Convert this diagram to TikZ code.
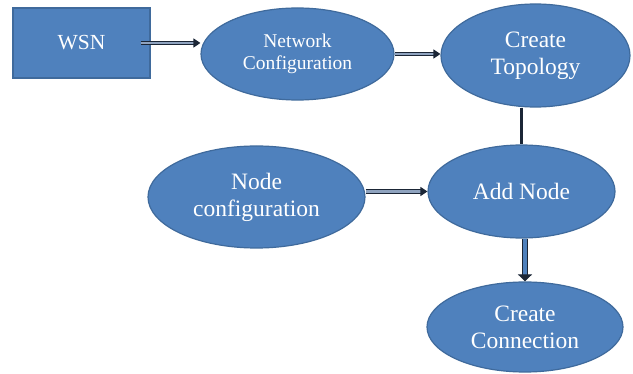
\documentclass[tikz,border=0pt]{standalone}
\usepackage{fontspec}
\setmainfont{Liberation Serif}
\usetikzlibrary{shapes.geometric,arrows.meta}
\definecolor{boxblue}{HTML}{4F81BD}
\definecolor{boxedge}{HTML}{3F6A9C}
\definecolor{arrdark}{HTML}{1B2636}
\definecolor{arrfill}{HTML}{8FA3BF}
\begin{document}
\begin{tikzpicture}[x=1pt,y=-1pt,
  every node/.style={text=white, align=center, inner sep=0pt},
  blob/.style={ellipse, fill=boxblue, draw=boxedge, line width=1.2pt},
  bigtext/.style={font=\fontsize{23.5}{27}\selectfont},
  dblarrow/.style={draw=arrdark, line width=1.3pt, double=arrfill, double distance=2.2pt, -{Triangle[length=7pt,width=9pt]}},
  fatarrow/.style={draw=arrdark, line width=1.2pt, double=boxblue, double distance=4.5pt, -{Triangle[length=7pt,width=14pt]}},
  plainline/.style={draw=arrdark, line width=3.5pt}
]
\fill[white] (0,0) rectangle (633,374);
\useasboundingbox (0,0) rectangle (633,374);

\node[rectangle, fill=boxblue, draw=boxedge, line width=1.2pt, minimum width=137pt, minimum height=70pt, font=\fontsize{21.5}{25}\selectfont] (wsn) at (81.5,43) {WSN};
\node[blob, minimum width=193pt, minimum height=92pt, font=\fontsize{19.5}{22.5}\selectfont] (net) at (297.5,54) {Network\\Configuration};
\node[blob, bigtext, minimum width=189pt, minimum height=103pt] (topo) at (535.5,55.5) {Create\\Topology};
\node[blob, bigtext, minimum width=187pt, minimum height=93pt] (add) at (521.5,191.5) {Add Node};
\node[blob, bigtext, minimum width=217pt, minimum height=102pt] (ncfg) at (256.5,197) {Node\\configuration};
\node[blob, bigtext, minimum width=196pt, minimum height=90pt] (conn) at (525,327) {Create\\Connection};

\draw[dblarrow] ([xshift=-10pt]wsn.east) -- (wsn.east -| net.west);
\draw[dblarrow] (net.east) -- (net.east -| topo.west);
\draw[plainline] (topo.south -| add.north) -- (add.north);
\draw[dblarrow] (ncfg.east |- add.west) -- (add.west);
\draw[fatarrow] (add.south -| conn.north) -- (conn.north);
\end{tikzpicture}
\end{document}
